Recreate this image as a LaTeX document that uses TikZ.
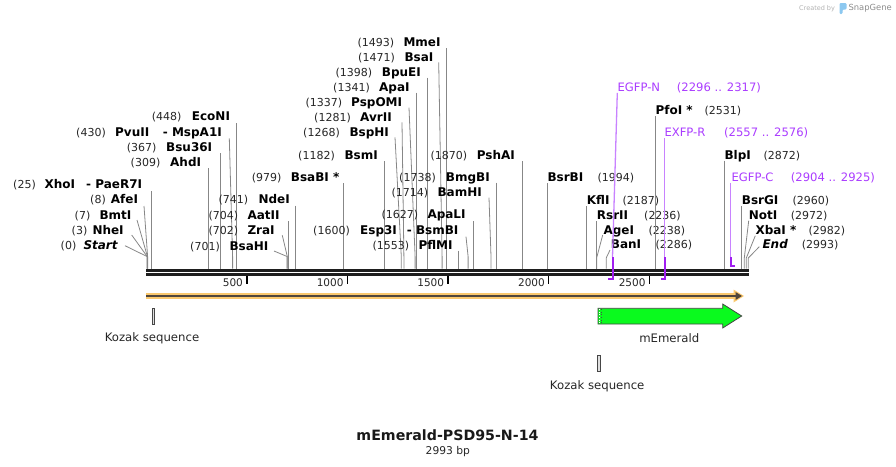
\documentclass[tikz,border=0pt]{standalone}
\usepackage{fontspec}
\setmainfont{DejaVu Sans}
\definecolor{siteline}{RGB}{135,135,135}
\definecolor{primdark}{RGB}{160,30,240}
\definecolor{primlight}{RGB}{200,130,255}
\definecolor{primtext}{RGB}{170,60,255}
\definecolor{orangebar}{RGB}{250,200,110}
\definecolor{darkbar}{RGB}{80,70,60}
\definecolor{featgreen}{RGB}{10,250,30}
\definecolor{featline}{RGB}{70,70,70}
\definecolor{seqbar}{RGB}{30,30,30}
\definecolor{snapblue}{RGB}{140,200,240}
\begin{document}
\begin{tikzpicture}[x=1pt,y=-1pt,
  numtxt/.style={font=\fontsize{11}{13}\selectfont, text=black!85, inner sep=0pt},
  enztxt/.style={font=\fontsize{12}{14}\selectfont\bfseries, text=black, inner sep=0pt},
  primtxt/.style={font=\fontsize{11.6}{14}\selectfont, text=primtext, inner sep=0pt},
  sitelink/.style={draw=siteline, line width=0.8pt},
  primlink/.style={draw=primlight, line width=1.3pt},
  primfoot/.style={draw=primdark, line width=2pt},
  ticktxt/.style={font=\fontsize{10.5}{12}\selectfont, text=black!85, inner sep=0pt},
  feattxt/.style={font=\fontsize{11.7}{14}\selectfont, text=black!85, inner sep=0pt}]
\useasboundingbox (0,0) rectangle (896,466);

% ---- left-labelled sites
\foreach \c/\num/\nx/\nm/\mx/\tx/\ty/\sx [count=\i] in {
 245/{(0)}/76.5/{\textit{Start}}/83.3/125/245.7/147,
 230/{(3)}/87.5/{NheI}/92.3/131.7/235/147.2,
 215/{(7)}/90.5/{BmtI}/99.3/137/220/147.4,
 199.3/{(8)}/106/{AfeI}/110.7/144/206/147.6,
 184.3/{(25)}/36/{XhoI}/44.3/151.5/191/151.5,
 161.7/{(309)}/160.5/{AhdI}/170/208.3/168.3/208.3,
 146.7/{(367)}/156.7/{Bsu36I}/166/220.2/153/220.2,
 132.3/{(430)}/106/{PvuII}/115/229.3/138.3/232.6,
 116/{(448)}/181.7/{EcoNI}/191.7/236.3/123/236.3,
 245.7/{(701)}/220/{BsaHI}/229.3/274/251/287.1,
 230/{(702)}/238.3/{ZraI}/247.3/282.3/235.3/287.3,
 215/{(704)}/238.3/{AatII}/247.3/288.2/221/288.2,
 199.3/{(741)}/248.3/{NdeI}/258.3/295.5/205.5/295.5,
 177.3/{(979)}/281.7/{BsaBI *}/290.7/343.3/183/343.3,
 155/{(1182)}/335/{BsmI}/344.3/384.5/161/384.5,
 131.7/{(1268)}/340/{BspHI}/349.3/395/137.3/401.3,
 116.7/{(1281)}/351/{AvrII}/360/402/122.3/403.9,
 101.7/{(1337)}/342.3/{PspOMI}/351/409/107.7/415.1,
 86.7/{(1341)}/370/{ApaI}/379/416.2/92.5/416.2,
 71.7/{(1398)}/372.3/{BpuEI}/381.7/427.4/77.7/427.4,
 56.7/{(1471)}/395/{BsaI}/404.3/438.7/62.3/442.1,
 42.3/{(1493)}/394.3/{MmeI}/403.3/446.4/48.3/446.4,
 245/{(1553)}/409.3/{PflMI}/418.3/458.4/250.5/458.4,
 230/{(1600)}/350/{Esp3I}/360/466/236.7/468.1,
 214.3/{(1627)}/418.3/{ApaLI}/427.3/473.4/221/473.4,
 192.3/{(1714)}/428.3/{BamHI}/437.3/489/197.7/491,
 176.7/{(1738)}/436/{BmgBI}/445.7/496.3/182.7/496.3,
 155/{(1870)}/467.3/{PshAI}/476.7/522.4/161/522.4}{
  \node[numtxt, anchor=base east] (ln\i) at (\nx,\c+4.6) {\num};
  \node[enztxt, anchor=base west] (le\i) at (\mx,\c+4.6) {\nm};
  \coordinate (lt\i) at (\tx,\ty);
  \coordinate (lk\i) at (\sx,256.5);
  \coordinate (lb\i) at (\sx,268.5);
  \draw[sitelink] (lt\i) -- (lk\i) -- (lb\i);
}
% second names of sites that share a position
\node[enztxt, anchor=base west] (alt1) at (86,188.9) {- PaeR7I};
\node[enztxt, anchor=base west] (alt2) at (162.7,136.9) {- MspA1I};
\node[enztxt, anchor=base west] (alt3) at (406.7,234.6) {- BsmBI};

% ---- right-labelled sites
\foreach \c/\nm/\mx/\num/\nx/\tx/\ty/\sx [count=\i] in {
 177.3/{BsrBI}/547.3/{(1994)}/597.3/547.4/183.3/547.4,
 200/{KflI}/586.7/{(2187)}/622.3/586.5/206/586.5,
 215/{RsrII}/596.7/{(2236)}/644/596.5/221/596.5,
 230/{AgeI}/603.3/{(2238)}/648.3/602.7/235/596.6,
 244.3/{BanI}/610.7/{(2286)}/655.3/610/250/606.2,
 110/{PfoI *}/655.3/{(2531)}/704.3/655.4/116/655.4,
 155/{BlpI}/724.3/{(2872)}/763.3/724.2/160.7/724.2,
 200/{BsrGI}/741.7/{(2960)}/792.3/741.5/206/741.5,
 215/{NotI}/748.7/{(2972)}/790.7/748.7/220.7/744.3,
 230/{XbaI *}/755.3/{(2982)}/808.3/755.3/235.7/746.3,
 244.3/{\textit{End}}/762.3/{(2993)}/801.7/759.3/246.7/748.3}{
  \node[enztxt, anchor=base west] (re\i) at (\mx,\c+4.6) {\nm};
  \node[numtxt, anchor=base west] (rn\i) at (\nx,\c+4.6) {\num};
  \coordinate (rt\i) at (\tx,\ty);
  \coordinate (rk\i) at (\sx,258);
  \coordinate (rb\i) at (\sx,268.5);
  \draw[sitelink] (rt\i) -- (rk\i) -- (rb\i);
}

% ---- sequence line and ruler
\coordinate (seqA) at (146,270.5);
\coordinate (seqB) at (749,270.5);
\coordinate (seqC) at (146,274.5);
\coordinate (seqD) at (749,274.5);
\draw[seqbar, line width=3pt] (seqA) -- (seqB);
\draw[seqbar, line width=3pt] (seqC) -- (seqD);
\foreach \x/\lab [count=\i] in {246.7/500,347.3/1000,447.9/1500,548.6/2000,649.3/2500}{
  \coordinate (tk\i) at (\x,276);
  \coordinate (tl\i) at (\x,283.5);
  \draw[black, line width=1.6pt] (tk\i) -- (tl\i);
  \node[ticktxt, anchor=base east] (tn\i) at (\x-3.6,286) {\lab};
}

% ---- primers
\foreach \nm/\nmx/\rng/\rx/\c/\tx/\ty/\vx/\by/\fx [count=\i] in {
 EGFP-N/617.3/{(2296 .. 2317)}/676.7/86.7/617.3/92.8/612.5/279/608.3,
 EXFP-R/664.3/{(2557 .. 2576)}/724/132.3/664.5/138.3/664.5/279/660.8,
 EGFP-C/731.3/{(2904 .. 2925)}/790.7/177.3/730.7/183.3/730.7/266/734.8}{
  \node[primtxt, anchor=base west] (pn\i) at (\nmx,\c+4.6) {\nm};
  \node[primtxt, anchor=base west] (pr\i) at (\rx,\c+4.6) {\rng};
  \coordinate (pt\i) at (\tx,\ty);
  \coordinate (pk\i) at (\vx,257);
  \coordinate (pb\i) at (\vx,\by);
  \coordinate (pf\i) at (\fx,\by);
  \draw[primlink] (pt\i) -- (pk\i);
  \draw[primfoot] (pk\i) -- (pb\i) -- (pf\i);
}

% ---- orange sequence-direction bar
\draw[orangebar, line width=6pt] (146,296) -- (736,296);
\fill[orangebar] (733.5,289.5) -- (744,296) -- (733.5,302.5) -- cycle;
\draw[darkbar, line width=2pt] (146,296) -- (737,296);
\fill[darkbar] (735.5,292) -- (742,296) -- (735.5,300) -- cycle;

% ---- features
\filldraw[fill=gray!25, draw=featline, line width=0.6pt] (152.3,308.3) rectangle (154.7,324);
\node[feattxt, anchor=base] (koz1) at (152,341) {Kozak sequence};

\filldraw[fill=featgreen, draw=featline, line width=0.8pt, line join=miter]
  (598,308.3) -- (722.7,308.3) -- (722.7,304) -- (741.7,316) -- (722.7,328)
  -- (722.7,324) -- (598,324) -- cycle;
\draw[white, line width=0.6pt, dotted] (599.6,309.2) -- (599.6,323.2);
\draw[black!70, line width=0.6pt, dotted] (601.3,309.2) -- (601.3,323.2);
\node[feattxt, anchor=base] (emer) at (669.3,342) {mEmerald};

\filldraw[fill=gray!25, draw=featline, line width=0.6pt] (597.5,355.7) rectangle (600,371);
\node[feattxt, anchor=base] (koz2) at (597.2,389) {Kozak sequence};

% ---- title
\node[font=\fontsize{14.2}{17}\selectfont\bfseries, text=black!90, inner sep=0pt, anchor=base] (title) at (447.5,440) {mEmerald-PSD95-N-14};
\node[font=\fontsize{10.7}{13}\selectfont, text=black!85, inner sep=0pt, anchor=base] (len) at (447.8,454) {2993 bp};

% ---- credit
\node[font=\fontsize{6.5}{8}\selectfont, text=black!30, inner sep=0pt, anchor=base west] (cred) at (799,10.5) {Created by};
\fill[snapblue, rounded corners=1.2pt] (839.5,3) -- (846.5,3) -- (846.5,9.5) -- (842.5,9.5) -- (842.5,14) -- (839.5,14) -- cycle;
\node[font=\fontsize{8.4}{10}\selectfont, text=black!45, inner sep=0pt, anchor=base west] (snap) at (848.3,10.5) {SnapGene};
\end{tikzpicture}
\end{document}
